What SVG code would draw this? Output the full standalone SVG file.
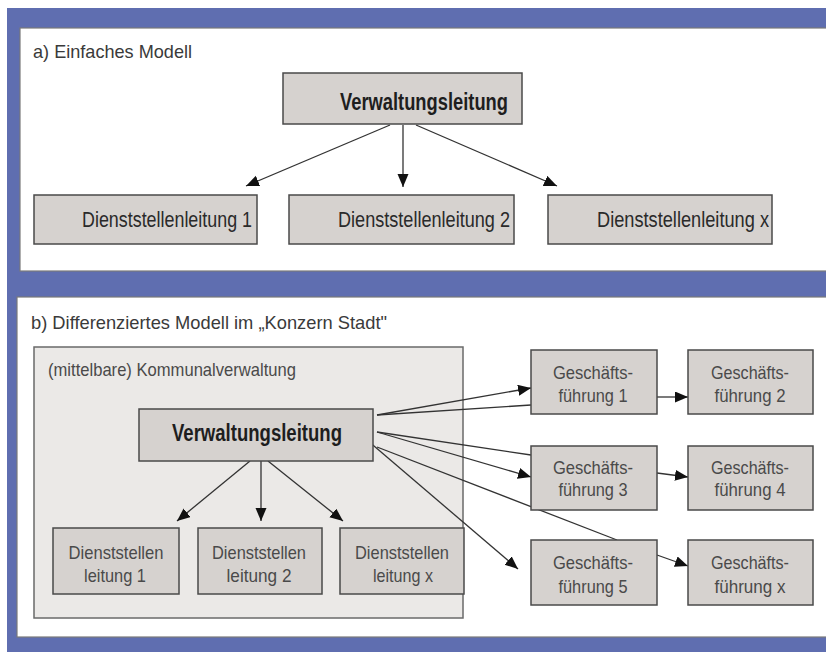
<svg xmlns="http://www.w3.org/2000/svg" width="826" height="652" viewBox="0 0 826 652">
<style>
text{font-family:"Liberation Sans",Arial,sans-serif;}
.panel{fill:#ffffff;stroke:#7a7a7a;stroke-width:1.2;}
.box{fill:#d6d2cf;stroke:#4a4a4a;stroke-width:1.5;}
.cont{fill:#ebe9e7;stroke:#6a6a6a;stroke-width:1.5;}
.lbl{font-size:19px;fill:#3a3a3a;}
.t1{font-size:22px;fill:#2a2a2a;}
.tb{font-size:23px;font-weight:bold;fill:#1e1e1e;}
.t2{font-size:19px;fill:#4a4a4a;}
.c{stroke:#333;stroke-width:1.3;fill:none;}
.a{marker-end:url(#ah);}
</style>
<defs>
<marker id="ah" markerUnits="userSpaceOnUse" markerWidth="14" markerHeight="12" refX="13" refY="5.5" orient="auto">
<path d="M0,0 L13,5.5 L0,11 Z" fill="#111"/>
</marker>
</defs>
<rect x="0" y="0" width="826" height="652" fill="#ffffff"/>
<rect x="7" y="8" width="819" height="644" fill="#5f6eb0"/>
<rect class="panel" x="20" y="28" width="810" height="243"/>
<rect class="panel" x="17" y="297" width="813" height="340"/>
<text class="lbl" x="33" y="58" textLength="159" lengthAdjust="spacingAndGlyphs">a) Einfaches Modell</text>
<text class="lbl" x="31" y="329" textLength="356" lengthAdjust="spacingAndGlyphs">b) Differenziertes Modell im „Konzern Stadt"</text>

<g id="b-kommunalverwaltung">
<rect class="cont" x="34" y="347" width="429" height="271"/>
<text class="t2" x="48" y="376" textLength="248" lengthAdjust="spacingAndGlyphs">(mittelbare) Kommunalverwaltung</text>
</g>

<g id="connectors">
<line class="c a" x1="390" y1="125" x2="246" y2="186"/>
<line class="c a" x1="403" y1="125" x2="403" y2="187"/>
<line class="c a" x1="416" y1="125" x2="557" y2="186"/>
<line class="c a" x1="250" y1="461" x2="177" y2="521"/>
<line class="c a" x1="261" y1="461" x2="261" y2="521"/>
<line class="c a" x1="268" y1="461" x2="343" y2="521"/>
<line class="c a" x1="377" y1="415" x2="531" y2="388"/>
<line class="c" x1="377" y1="415" x2="531" y2="405"/>
<line class="c" x1="377" y1="432" x2="531" y2="455"/>
<line class="c a" x1="377" y1="432" x2="531" y2="477"/>
<line class="c" x1="377" y1="447" x2="617" y2="540"/>
<line class="c a" x1="367" y1="440" x2="518" y2="569"/>
<line class="c a" x1="657" y1="397" x2="688" y2="397"/>
<line class="c a" x1="657" y1="473" x2="688" y2="477"/>
<line class="c a" x1="657" y1="555" x2="688" y2="566"/>
</g>

<g id="a-verwaltungsleitung">
<rect class="box" x="283" y="73" width="239" height="51"/>
<text class="tb" x="508" y="110" text-anchor="end" textLength="168" lengthAdjust="spacingAndGlyphs">Verwaltungsleitung</text>
</g>
<g id="a-dienst1">
<rect class="box" x="34" y="195" width="223" height="49"/>
<text class="t1" x="252" y="227" text-anchor="end" textLength="170" lengthAdjust="spacingAndGlyphs">Dienststellenleitung 1</text>
</g>
<g id="a-dienst2">
<rect class="box" x="289" y="195" width="225" height="49"/>
<text class="t1" x="510" y="227" text-anchor="end" textLength="172" lengthAdjust="spacingAndGlyphs">Dienststellenleitung 2</text>
</g>
<g id="a-dienstx">
<rect class="box" x="548" y="195" width="224" height="49"/>
<text class="t1" x="769" y="227" text-anchor="end" textLength="172" lengthAdjust="spacingAndGlyphs">Dienststellenleitung x</text>
</g>

<g id="b-verwaltungsleitung">
<rect class="box" x="139" y="409" width="234" height="52"/>
<text class="tb" x="257" y="441" text-anchor="middle" textLength="170" lengthAdjust="spacingAndGlyphs">Verwaltungsleitung</text>
</g>
<g id="b-dienst1">
<rect class="box" x="53" y="528" width="126" height="66"/>
<text class="t2" x="116" y="559" text-anchor="middle" textLength="95" lengthAdjust="spacingAndGlyphs">Dienststellen</text>
<text class="t2" x="115" y="582" text-anchor="middle" textLength="62" lengthAdjust="spacingAndGlyphs">leitung 1</text>
</g>
<g id="b-dienst2">
<rect class="box" x="198" y="528" width="124" height="66"/>
<text class="t2" x="259" y="559" text-anchor="middle" textLength="94" lengthAdjust="spacingAndGlyphs">Dienststellen</text>
<text class="t2" x="259" y="582" text-anchor="middle" textLength="65" lengthAdjust="spacingAndGlyphs">leitung 2</text>
</g>
<g id="b-dienstx">
<rect class="box" x="340" y="528" width="124" height="66"/>
<text class="t2" x="402" y="559" text-anchor="middle" textLength="94" lengthAdjust="spacingAndGlyphs">Dienststellen</text>
<text class="t2" x="403" y="582" text-anchor="middle" textLength="60" lengthAdjust="spacingAndGlyphs">leitung x</text>
</g>

<g id="gf1">
<rect class="box" x="531" y="350" width="126" height="64"/>
<text class="t2" x="593" y="379" text-anchor="middle" textLength="80" lengthAdjust="spacingAndGlyphs">Geschäfts-</text>
<text class="t2" x="593" y="402" text-anchor="middle" textLength="69" lengthAdjust="spacingAndGlyphs">führung 1</text>
</g>
<g id="gf2">
<rect class="box" x="688" y="350" width="125" height="64"/>
<text class="t2" x="750" y="379" text-anchor="middle" textLength="78" lengthAdjust="spacingAndGlyphs">Geschäfts-</text>
<text class="t2" x="750" y="402" text-anchor="middle" textLength="71" lengthAdjust="spacingAndGlyphs">führung 2</text>
</g>
<g id="gf3">
<rect class="box" x="531" y="446" width="126" height="64"/>
<text class="t2" x="593" y="474" text-anchor="middle" textLength="80" lengthAdjust="spacingAndGlyphs">Geschäfts-</text>
<text class="t2" x="593" y="496" text-anchor="middle" textLength="69" lengthAdjust="spacingAndGlyphs">führung 3</text>
</g>
<g id="gf4">
<rect class="box" x="688" y="446" width="125" height="64"/>
<text class="t2" x="750" y="474" text-anchor="middle" textLength="78" lengthAdjust="spacingAndGlyphs">Geschäfts-</text>
<text class="t2" x="750" y="496" text-anchor="middle" textLength="71" lengthAdjust="spacingAndGlyphs">führung 4</text>
</g>
<g id="gf5">
<rect class="box" x="531" y="540" width="126" height="65"/>
<text class="t2" x="593" y="569" text-anchor="middle" textLength="80" lengthAdjust="spacingAndGlyphs">Geschäfts-</text>
<text class="t2" x="593" y="593" text-anchor="middle" textLength="69" lengthAdjust="spacingAndGlyphs">führung 5</text>
</g>
<g id="gfx">
<rect class="box" x="688" y="540" width="125" height="65"/>
<text class="t2" x="750" y="569" text-anchor="middle" textLength="78" lengthAdjust="spacingAndGlyphs">Geschäfts-</text>
<text class="t2" x="750" y="593" text-anchor="middle" textLength="71" lengthAdjust="spacingAndGlyphs">führung x</text>
</g>
</svg>
